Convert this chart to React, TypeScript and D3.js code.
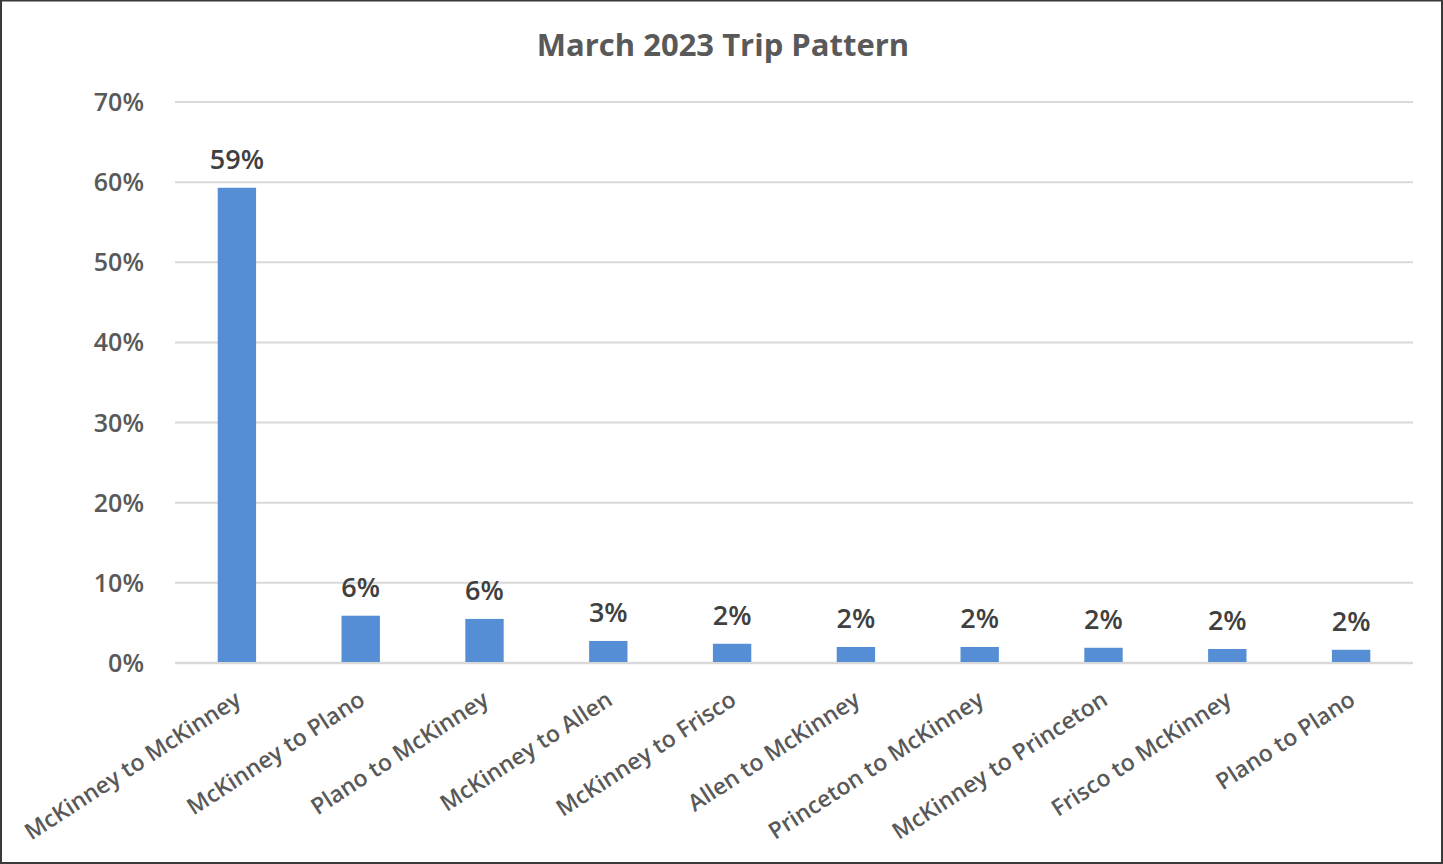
import React from "react";
import * as d3 from "d3";

const categories = [
  "McKinney to McKinney",
  "McKinney to Plano",
  "Plano to McKinney",
  "McKinney to Allen",
  "McKinney to Frisco",
  "Allen to McKinney",
  "Princeton to McKinney",
  "McKinney to Princeton",
  "Frisco to McKinney",
  "Plano to Plano",
];
const shares = [59.3, 5.9, 5.5, 2.75, 2.4, 2.0, 2.0, 1.9, 1.75, 1.65];
const yTicks = [0, 10, 20, 30, 40, 50, 60, 70];
const title = "March 2023 Trip Pattern";

const W = 1443;
const H = 864;
const left = 175;
const right = 1413;
const top = 102;
const bottom = 663;
const font = "'Open Sans', 'Liberation Sans', sans-serif";
const textColor = "#595959";

export default function App() {
  const x = d3.scaleBand<string>().domain(categories).range([left, right]).paddingInner(0.69).paddingOuter(0.345);
  const y = d3.scaleLinear().domain([0, 70]).range([bottom, top]);

  return (
    <svg
      width={W}
      height={H}
      style={{ position: "fixed", left: 0, top: 0, background: "#fff" }}
    >
      <rect x={1} y={0.5} width={W - 2} height={H - 1.5} fill="#fff" stroke="#3a3a3a" strokeWidth={2} />
      <text
        x={723}
        y={56}
        textAnchor="middle"
        fontFamily={font}
        fontWeight={700}
        fontSize={31}
        fill={textColor}
      >
        {title}
      </text>
      {yTicks.map((t) => (
        <g key={t}>
          <line x1={left} x2={right} y1={y(t)} y2={y(t)} stroke="#d9d9d9" strokeWidth={t === 0 ? 2.5 : 2} />
          <text
            x={144}
            y={y(t)}
            dy="0.36em"
            textAnchor="end"
            fontFamily={font}
            fontWeight={600}
            fontSize={25}
            fill={textColor}
          >
            {d3.format(".0%")(t / 100)}
          </text>
        </g>
      ))}
      {categories.map((c, i) => {
        const bx = x(c)!;
        const cx = bx + x.bandwidth() / 2;
        return (
          <g key={c}>
            <rect x={bx} y={y(shares[i])} width={x.bandwidth()} height={y(0) - y(shares[i]) - 1} fill="#558ed5" />
            <text
              x={cx}
              y={y(shares[i]) - 19}
              textAnchor="middle"
              fontFamily={font}
              fontWeight={600}
              fontSize={27}
              fill="#404040"
            >
              {Math.round(shares[i]) + "%"}
            </text>
            <text
              transform={`translate(${cx - 3},${690}) rotate(-33)`}
              textAnchor="end"
              dy="0.7em"
              fontFamily={font}
              fontWeight={600}
              fontSize={23}
              fill={textColor}
            >
              {c}
            </text>
          </g>
        );
      })}
    </svg>
  );
}
